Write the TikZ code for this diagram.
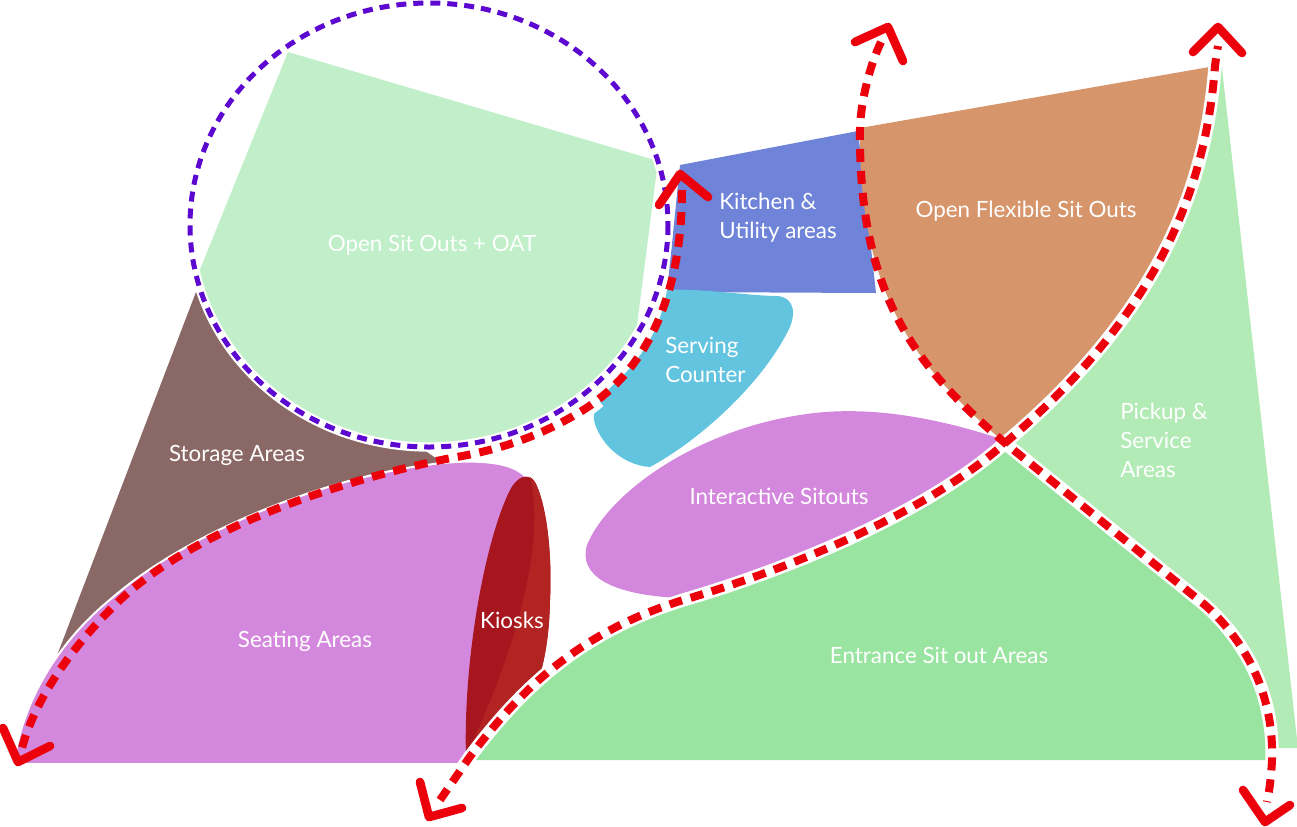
\documentclass[tikz,border=0pt]{standalone}
\usepackage{fontspec}
\setmainfont{Lato}
\definecolor{oat}{RGB}{192,239,201}
\definecolor{storage}{RGB}{138,104,102}
\definecolor{seat}{RGB}{212,136,221}
\definecolor{kiosk}{RGB}{167,22,31}
\definecolor{kioskb}{RGB}{178,36,33}
\definecolor{kitchen}{RGB}{111,132,217}
\definecolor{serve}{RGB}{98,196,223}
\definecolor{flex}{RGB}{214,149,106}
\definecolor{pickup}{RGB}{178,235,182}
\definecolor{entr}{RGB}{153,228,160}
\definecolor{flowred}{RGB}{235,0,12}
\definecolor{ring}{RGB}{92,8,208}
\begin{document}
\begin{tikzpicture}[x=0.75pt,y=-0.75pt,
  lbl/.style={text=white, font=\fontsize{16.8}{21.75}\selectfont, inner sep=0pt},
  flowline/.style={draw=flowred, line width=6pt, dash pattern=on 9.75pt off 6.75pt},
  casing/.style={draw=white, line width=10pt},
  ringline/.style={draw=ring, line width=3.75pt, dash pattern=on 7.5pt off 5.25pt,
    preaction={draw=white, line width=7pt, solid}},
  chevron/.style={draw=flowred, line width=6.5pt, line cap=round, line join=round}]
\useasboundingbox (0,0) rectangle (1297,826);

% Storage Areas
\fill[storage] (196,292) -- (440,461) -- (300,510) -- (40,700) -- cycle;
% Open Sit Outs + OAT
\begin{scope}
  \clip (429,225) ellipse [x radius=236, y radius=219];
  \fill[oat] (288,52) -- (658,161) -- (636,333) -- (640,470) -- (199,470) -- (199,272) -- cycle;
\end{scope}
% Seating Areas
\fill[seat, draw=white, line width=1.5pt] (14,764) .. controls (22,700) and (60,640) .. (112,598)
  .. controls (190,530) and (340,470) .. (455,462)
  .. controls (495,460) and (515,466) .. (525,476) -- (464,764) -- cycle;
% Kiosks
\fill[kiosk] (466,757) .. controls (463,660) and (485,540) .. (510,490)
  .. controls (516,478) and (528,470) .. (536,484)
  .. controls (548,510) and (552,560) .. (550,600)
  .. controls (549,650) and (540,690) .. (520,715) -- cycle;
\fill[kioskb] (530,477) .. controls (545,540) and (520,640) .. (468,752) -- (520,715)
  .. controls (540,690) and (549,650) .. (550,600)
  .. controls (552,560) and (548,510) .. (536,484) .. controls (534,480) and (532,478) .. (530,477) -- cycle;
% Kitchen
\fill[kitchen] (680,165) -- (858,131) -- (876,293) -- (667,292) -- cycle;
% Serving counter
\fill[serve] (667,290) .. controls (700,288) and (750,296) .. (778,296)
  .. controls (795,298) and (797,315) .. (787,333)
  .. controls (760,385) and (700,440) .. (650,467)
  .. controls (620,465) and (598,440) .. (594,420)
  .. controls (592,400) and (615,385) .. (630,368)
  .. controls (650,345) and (662,320) .. (667,290) -- cycle;
% Interactive sitouts
\fill[seat] (1004,440) .. controls (930,415) and (860,405) .. (800,415)
  .. controls (700,430) and (610,490) .. (587,545)
  .. controls (578,575) and (610,595) .. (680,598)
  .. controls (790,565) and (920,510) .. (1004,440) -- cycle;
% Pickup & service
\fill[pickup] (1222,68) -- (1298,748) -- (1272,748) -- (1205,605) -- (1005,443)
  .. controls (1150,320) and (1205,200) .. (1215,66) -- cycle;
% Open flexible sit outs
\fill[flex] (860,128) -- (1215,66) .. controls (1205,200) and (1150,320) .. (1005,443)
  .. controls (920,370) and (858,300) .. (860,128) -- cycle;
% Entrance sit out
\fill[entr] (469,760) .. controls (520,690) and (580,630) .. (690,598)
  .. controls (800,565) and (930,510) .. (1006,445) -- (1205,605)
  .. controls (1250,645) and (1272,700) .. (1272,760) -- cycle;

% Ring
\draw[ringline] (429,225) ellipse [x radius=239, y radius=222];

% White casings under the flow lines that separate areas
\draw[casing] (440,800) -- (469,758)
  .. controls (520,690) and (580,630) .. (690,598)
  .. controls (800,565) and (930,510) .. (1005,443)
  .. controls (1150,320) and (1205,200) .. (1215,66)
  .. controls (1216,58) and (1217,52) .. (1218,46);
\draw[casing] (1005,443) -- (1205,605)
  .. controls (1250,645) and (1274,700) .. (1272,760)
  .. controls (1271,780) and (1269,792) .. (1267,802);
\draw[casing, line width=8pt] (600,402) .. controls (560,436) and (500,450) .. (451,458);

% Flow line A
\draw[flowline] (682,190) .. controls (682,290) and (650,370) .. (580,412)
  .. controls (540,436) and (500,450) .. (451,458)
  .. controls (350,478) and (200,525) .. (120,600)
  .. controls (70,648) and (35,700) .. (22,748);
% Flow line B
\draw[flowline] (440,800) -- (469,758)
  .. controls (520,690) and (580,630) .. (690,598)
  .. controls (800,565) and (930,510) .. (1005,443)
  .. controls (1150,320) and (1205,200) .. (1215,66)
  .. controls (1216,58) and (1217,52) .. (1218,46);
% Flow line C
\draw[flowline] (881,42)
  .. controls (870,65) and (861,100) .. (860,128)
  .. controls (858,300) and (920,370) .. (1005,443) -- (1205,605)
  .. controls (1250,645) and (1274,700) .. (1272,760)
  .. controls (1271,780) and (1269,792) .. (1267,802);

% Chevrons
\draw[chevron] (659,205) -- (680,174) -- (708,197);
\draw[chevron] (855,42) -- (888,27) -- (903,61);
\draw[chevron] (1193,52) -- (1218,27) -- (1242,53);
\draw[chevron] (3,728) -- (18,762) -- (50,746);
\draw[chevron] (420,782) -- (429,817) -- (462,808);
\draw[chevron] (1243,790) -- (1265,822) -- (1290,805);

% Labels
\node[lbl] (toat) at (432,245) {Open Sit Outs + OAT};
\node[lbl, align=left, anchor=west] (tkit) at (719,218) {Kitchen \&\\Utility areas};
\node[lbl] (tflex) at (1026,211) {Open Flexible Sit Outs};
\node[lbl, align=left, anchor=west] (tserve) at (665,360) {Serving\\Counter};
\node[lbl] (tstore) at (237,455) {Storage Areas};
\node[lbl, align=left, anchor=west] (tpick) at (1120,440) {Pickup \&\\Service\\Areas};
\node[lbl] (tinter) at (779,496) {Interactive Sitouts};
\node[lbl] (tseat) at (305,641) {Seating Areas};
\node[lbl] (tkiosk) at (512,620) {Kiosks};
\node[lbl] (tentr) at (939,655) {Entrance Sit out Areas};
\end{tikzpicture}
\end{document}
